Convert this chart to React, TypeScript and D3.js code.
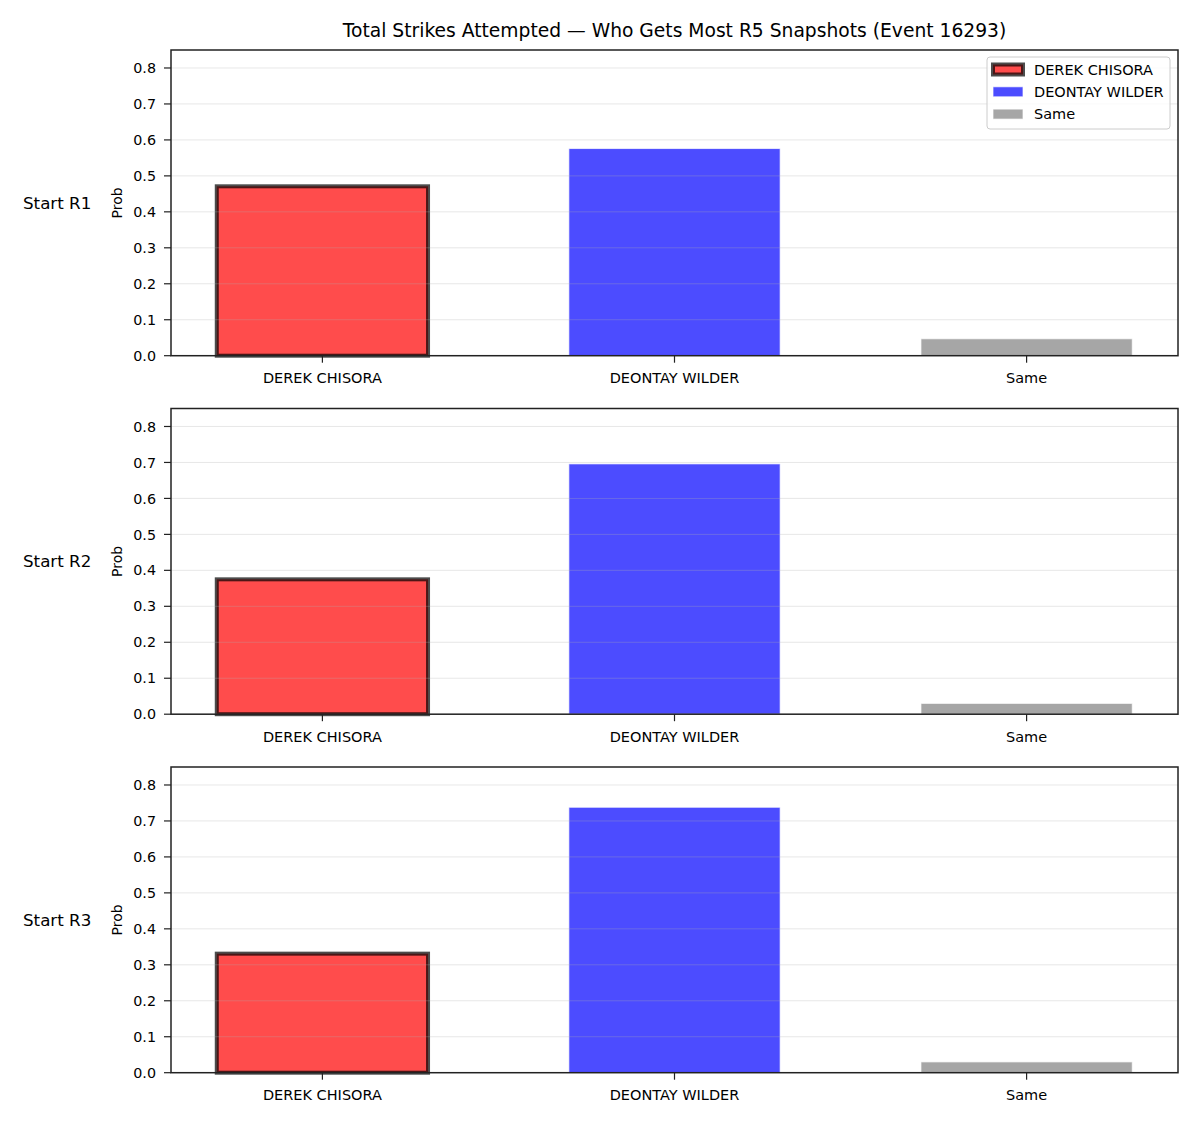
import * as d3 from 'd3';

// Who gets most R5 snapshots, per starting round
const CATEGORIES = ['DEREK CHISORA', 'DEONTAY WILDER', 'Same'];
const ROUNDS = ['Start R1', 'Start R2', 'Start R3'];
const CHISORA = [0.471, 0.375, 0.331];
const WILDER = [0.576, 0.696, 0.738];
const SAME = [0.047, 0.03, 0.03];
const Y_TICKS = [0, 0.1, 0.2, 0.3, 0.4, 0.5, 0.6, 0.7, 0.8];

const COLORS = ['#ff0000', '#0000ff', '#808080'];
const FONT = '"DejaVu Sans", Verdana, sans-serif';

const W = 1200;
const H = 1125;
const left = 171;
const right = 1178;
const top0 = 50;
const pitch = 358.5;
const panelH = 305.7;

export default function App() {
  const x = d3.scaleLinear().domain([-0.43, 2.43]).range([left, right]);
  const barW = x(0.6) - x(0);
  const series = ROUNDS.map((_, i) => [CHISORA[i], WILDER[i], SAME[i]]);

  return (
    <svg width={W} height={H} style={{ position: 'absolute', left: 0, top: 0 }} fontFamily={FONT}>
      <rect width={W} height={H} fill="#fff" />
      <text x={(left + right) / 2} y={37} textAnchor="middle" fontSize={18.7} fill="#000">
        Total Strikes Attempted — Who Gets Most R5 Snapshots (Event 16293)
      </text>
      {series.map((vals, p) => {
        const t = top0 + p * pitch;
        const y = d3.scaleLinear().domain([0, 0.85]).range([t + panelH, t]);
        const midY = t + panelH / 2;
        return (
          <g key={p}>
            {/* bars */}
            {vals.map((v, i) => {
              const bx = x(i) - barW / 2;
              const isFirst = i === 0;
              return (
                <rect
                  key={i}
                  x={bx}
                  y={y(v)}
                  width={barW}
                  height={y(0) - y(v)}
                  fill={COLORS[i]}
                  fillOpacity={0.7}
                  stroke={isFirst ? '#000' : '#fff'}
                  strokeOpacity={0.7}
                  strokeWidth={isFirst ? 4 : 1}
                />
              );
            })}
            {/* grid above bars */}
            {Y_TICKS.map((v) => (
              <line key={v} x1={left} x2={right} y1={y(v)} y2={y(v)} stroke="#b0b0b0" strokeOpacity={0.3} strokeWidth={1} />
            ))}
            {/* frame */}
            <rect x={left} y={t} width={right - left} height={panelH} fill="none" stroke="#222" strokeWidth={1.5} />
            {/* y ticks */}
            {Y_TICKS.map((v) => (
              <g key={v}>
                <line x1={left - 7} x2={left} y1={y(v)} y2={y(v)} stroke="#222" strokeWidth={1.2} />
                <text x={left - 15} y={y(v)} dy="0.36em" textAnchor="end" fontSize={14.3} fill="#000">
                  {v.toFixed(1)}
                </text>
              </g>
            ))}
            {/* x ticks */}
            {CATEGORIES.map((c, i) => (
              <g key={c}>
                <line x1={x(i)} x2={x(i)} y1={t + panelH} y2={t + panelH + 7} stroke="#222" strokeWidth={1.2} />
                <text x={x(i)} y={t + panelH + 22.5} dy="0.36em" textAnchor="middle" fontSize={14.5} fill="#000">
                  {c}
                </text>
              </g>
            ))}
            <text
              transform={`translate(122,${midY}) rotate(-90)`}
              textAnchor="middle"
              fontSize={14}
              fill="#000"
            >
              Prob
            </text>
            <text x={23} y={midY} dy="0.35em" fontSize={16.7} fill="#000">
              {ROUNDS[p]}
            </text>
          </g>
        );
      })}
      {/* legend */}
      <g>
        <rect x={987} y={57} width={183} height={72} rx={3} fill="#fff" fillOpacity={0.8} stroke="#ccc" strokeWidth={1} />
        {CATEGORIES.map((c, i) => {
          const ly = 69.5 + i * 22.3;
          return (
            <g key={c}>
              <rect
                x={993}
                y={ly - 5}
                width={30}
                height={10}
                fill={COLORS[i]}
                fillOpacity={0.7}
                stroke={i === 0 ? '#000' : '#fff'}
                strokeOpacity={0.7}
                strokeWidth={i === 0 ? 4 : 1}
              />
              <text x={1034} y={ly} dy="0.35em" fontSize={14.5} fill="#000">
                {c}
              </text>
            </g>
          );
        })}
      </g>
    </svg>
  );
}
